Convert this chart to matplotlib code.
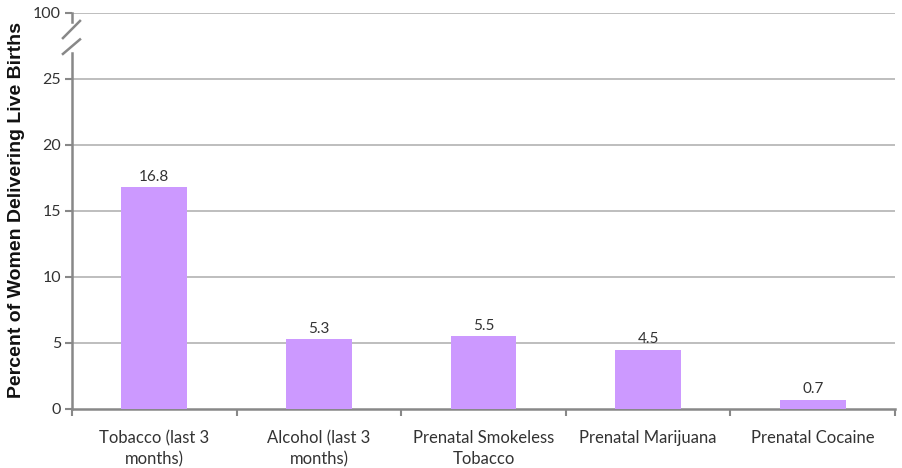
import matplotlib
matplotlib.use("Agg")
import matplotlib.pyplot as plt

categories = ["Tobacco (last 3\nmonths)", "Alcohol (last 3\nmonths)", "Prenatal Smokeless\nTobacco",
              "Prenatal Marijuana", "Prenatal Cocaine"]
values = [16.8, 5.3, 5.5, 4.5, 0.7]
ytick_vals = [0, 5, 10, 15, 20, 25, 30]
ytick_labels = ["0", "5", "10", "15", "20", "25", "100"]

fig = plt.figure(figsize=(9.03, 4.68), dpi=100)
ax = fig.add_axes([72/903, 59/468, 823/903, 396/468])

x = list(range(len(categories)))
ax.bar(x, values, width=0.4, color="#CC99FF", zorder=3)
for xi, v in zip(x, values):
    ax.text(xi, v + 0.25, f"{v}", ha="center", va="bottom", fontsize=11, family="Lato", color="#333333")

ax.set_xlim(-0.5, len(categories) - 0.5)
ax.set_ylim(0, 30)
ax.set_yticks(ytick_vals)
ax.set_yticklabels(ytick_labels, fontsize=11.5, family="Lato", color="#333333")
ax.set_xticks(x)
ax.set_xticklabels(categories, fontsize=12, family="Lato", color="#333333", linespacing=1.4)
ax.set_xticks([i - 0.5 for i in range(len(categories) + 1)], minor=True)
ax.tick_params(axis="x", which="major", length=0, pad=15)
ax.tick_params(axis="x", which="minor", length=5, width=1.5, color="#888888")
ax.tick_params(axis="y", length=5, width=1.5, color="#888888", pad=3)

for v in ytick_vals[1:]:
    ax.axhline(v, color="#B3B3B3", lw=1.2, zorder=1)

for s in ["top", "right", "left"]:
    ax.spines[s].set_visible(False)
ax.spines["bottom"].set_color("#888888")
ax.spines["bottom"].set_linewidth(1.8)

yt = ax.get_yaxis_transform()
ax.plot([0, 0], [0, 27.0], color="#888888", lw=1.8, transform=yt, clip_on=False, zorder=4)
ax.plot([0, 0], [29.3, 30], color="#888888", lw=1.8, transform=yt, clip_on=False, zorder=4)
ax.plot([-0.011, 0.0097], [26.9, 28.0], color="#888888", lw=1.8, transform=yt, clip_on=False, zorder=4)
ax.plot([-0.011, 0.0097], [28.1, 29.4], color="#888888", lw=1.8, transform=yt, clip_on=False, zorder=4)

ax.set_ylabel("Percent of Women Delivering Live Births", fontsize=14, fontweight="bold",
              family="Liberation Sans", color="#111111")
ax.yaxis.set_label_coords(-0.057, 0.5025)

fig.savefig("out.png", dpi=100)
